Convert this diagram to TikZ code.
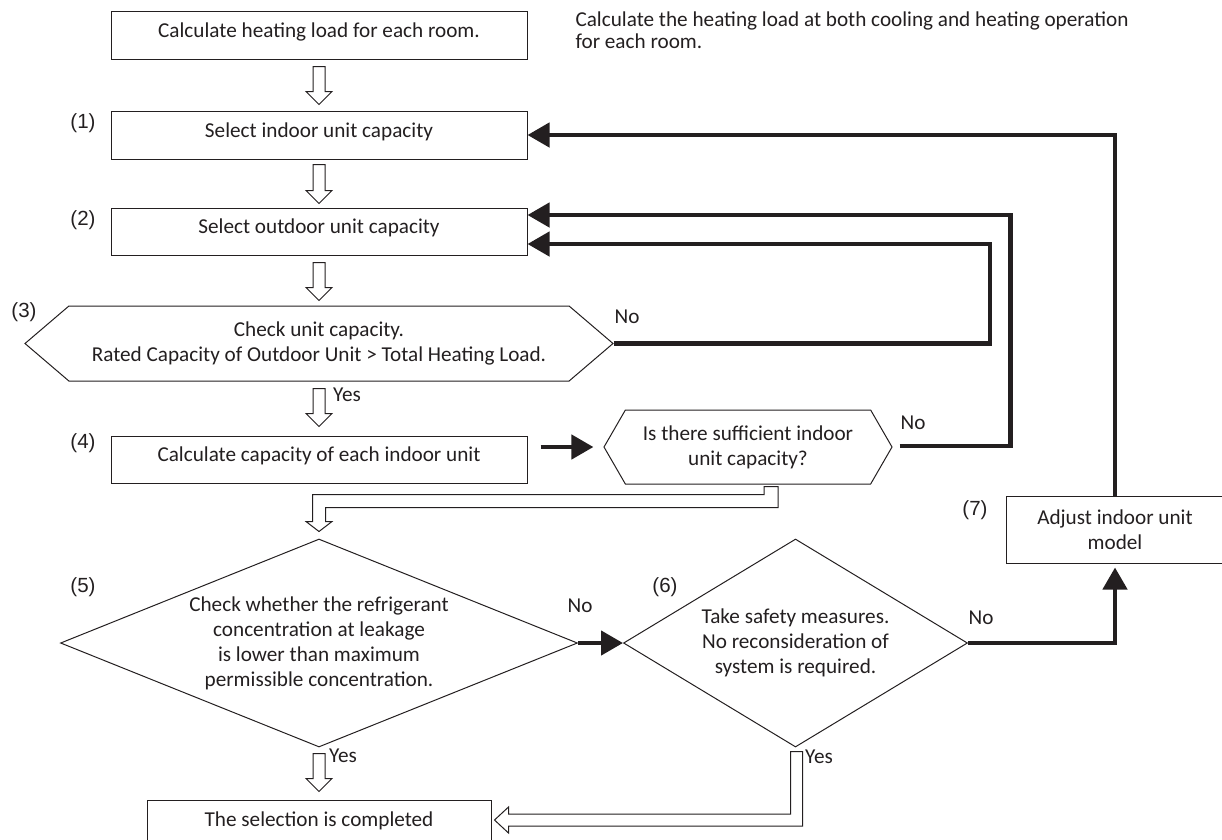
\documentclass[tikz,border=0pt]{standalone}
\usepackage{fontspec}
\setmainfont{Carlito}
\newfontfamily\stepfont{Liberation Sans}
\usepackage{tikz}
\usetikzlibrary{arrows.meta,positioning,calc,shapes.geometric,shapes.symbols}
\definecolor{ink}{RGB}{35,31,32}
% hollow block arrow pointing down, from #1 to #2
\newcommand{\hollowdown}[2]{%
  \draw[hollow] let \p1=(#1), \p2=(#2) in
    (\x2-6pt,\y1) -- (\x2-6pt,\y2+13pt) -- (\x2-13pt,\y2+13pt) -- (\p2)
    -- (\x2+13pt,\y2+13pt) -- (\x2+6pt,\y2+13pt) -- (\x2+6pt,\y1) -- cycle;}

\begin{document}
\begin{tikzpicture}[x=1pt,y=-1pt,>=Latex,
  every node/.style={align=center,font=\fontsize{21.2}{25}\selectfont,text=ink},
  box/.style={draw=ink,line width=1pt,inner sep=0pt,minimum width=416pt,minimum height=48pt},
  onerow/.style={text height=15pt,text depth=11pt},
  hexbox/.style={draw=ink,line width=1pt,signal,signal to=east and west,inner sep=0pt},
  decision/.style={draw=ink,line width=1pt,diamond,inner sep=0pt},
  steplabel/.style={font=\stepfont\fontsize{20.5}{24}\selectfont},
  feedback/.style={draw=ink,line width=4.5pt,-{Triangle[length=22pt,width=24pt]}},
  hollow/.style={draw=ink,line width=1pt,fill=white,line join=miter}]
  \useasboundingbox (0,0) rectangle (1222,839);

  \node[box,onerow] (load) at (319,35) {Calculate heating load for each room.};
  \node[anchor=west,align=left,font=\fontsize{21.2}{22}\selectfont] (note) at (572,30)
    {Calculate the heating load at both cooling and heating operation\\for each room.};
  \node[box,onerow,below=51pt of load] (indoor) {Select indoor unit capacity};
  \node[box,onerow,minimum height=47pt,below=48pt of indoor] (outdoor) {Select outdoor unit capacity};
  \node[hexbox,signal pointer angle=81,minimum width=588pt,minimum height=75pt,below=50pt of outdoor] (check)
    {Check unit capacity.\\Rated Capacity of Outdoor Unit > Total Heating Load.};
  \node[box,onerow,minimum height=47pt,below=54pt of check] (capacity) {Calculate capacity of each indoor unit};
  \node[hexbox,signal pointer angle=120,minimum width=288pt,minimum height=74pt] (enough) at (748,447)
    {Is there sufficient indoor\\unit capacity?};
  \node[decision,aspect=2.45,minimum width=517pt,minimum height=208pt,below=55pt of capacity] (leak)
    {Check whether the refrigerant\\concentration at leakage\\is lower than maximum\\permissible concentration.};
  \node[decision,aspect=1.65,minimum width=344pt,minimum height=208pt,right=45pt of leak] (safety)
    {Take safety measures.\\No reconsideration of\\system is required.};
  \node[box,minimum width=218pt,minimum height=67pt] (adjust) at (1115,529.5) {Adjust indoor unit\\model};
  \node[box,minimum width=344pt,minimum height=42pt,below=52pt of leak] (done) {The selection is completed};

  % step numbers
  \node[steplabel] (s1) at (83,123) {(1)};
  \node[steplabel] (s2) at (83,220) {(2)};
  \node[steplabel] (s3) at (24,312) {(3)};
  \node[steplabel] (s4) at (83,443) {(4)};
  \node[steplabel] (s5) at (83,587) {(5)};
  \node[steplabel] (s6) at (665,587) {(6)};
  \node[steplabel] (s7) at (975,510) {(7)};

  % branch labels
  \node (no3) at (627,317) {No};
  \node (no4) at (913,423) {No};
  \node (no5) at (580,606) {No};
  \node (no6) at (981,618) {No};
  \node (yes3) at (347,395) {Yes};
  \node (yes5) at (343,756) {Yes};
  \node (yes6) at (819,757) {Yes};

  % main flow
  \hollowdown{$(load.south)+(0,7)$}{$(indoor.north)+(0,-6)$}
  \hollowdown{$(indoor.south)+(0,5)$}{$(outdoor.north)+(0,-4)$}
  \hollowdown{$(outdoor.south)+(0,7)$}{$(check.north)+(0,-5)$}
  \hollowdown{$(check.south)+(0,7)$}{$(capacity.north)+(0,-9)$}
  \hollowdown{$(leak.south)+(0,6)$}{$(done.north)+(0,-8)$}
  \draw[hollow] let \p1=($(enough.south)+(23,2)$), \p2=($(leak.north)+(0,-7)$) in
    (\x1-7pt,\y1) -- (\x1-7pt,\y1-8pt) -- (\x2-6.5pt,\y1-8pt) -- (\x2-6.5pt,\y2+10pt)
    -- (\x2-13pt,\y2+10pt) -- (\p2) -- (\x2+13pt,\y2+10pt) -- (\x2+6.5pt,\y2+10pt)
    -- (\x2+6.5pt,\y1-21pt) -- (\x1+7pt,\y1-21pt) -- (\x1+7pt,\y1) -- cycle;
  \draw[hollow] let \p1=($(safety.south)+(1,4)$), \p2=($(done.east)+(3,-1)$) in
    (\x1-6pt,\y1) -- (\x1-6pt,\y2+6pt) -- (\x2+14pt,\y2+6pt) -- (\x2+14pt,\y2+13pt)
    -- (\p2) -- (\x2+14pt,\y2-13pt) -- (\x2+14pt,\y2-6pt) -- (\x1+6pt,\y2-6pt)
    -- (\x1+6pt,\y1) -- cycle;

  % black connectors
  \draw[feedback,shorten <=13pt,shorten >=10pt] (capacity.east |- enough.west) -- (enough.west);
  \draw[feedback] (leak.east) -- (safety.west);
  \draw[feedback] (safety.east) -| ($(adjust.south)+(0,4)$);
  \draw[feedback] (adjust.north) |- (indoor.east);
  \draw[feedback] (check.east) -- ++(376,0) |- ($(outdoor.east)+(0,12.5)$);
  \draw[feedback] ($(enough.east)+(7,-1)$) -- ++(111,0) |- ($(outdoor.east)+(0,-16.5)$);
\end{tikzpicture}
\end{document}
